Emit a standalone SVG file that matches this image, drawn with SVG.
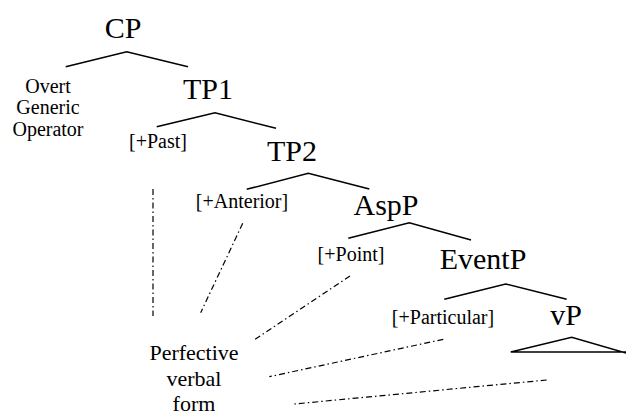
<svg xmlns="http://www.w3.org/2000/svg" width="626" height="412" viewBox="0 0 626 412">
<style>
text{font-family:'Liberation Serif','Times New Roman','DejaVu Serif',serif;fill:#000;text-anchor:middle}
.big{font-size:30px}
.sm{font-size:20px}
.pf{font-size:22px}
.br{fill:none;stroke:#000;stroke-width:1.5}
.dd{fill:none;stroke:#000;stroke-width:1.2;stroke-dasharray:6 3 1.5 3}
</style>
<rect width="626" height="412" fill="#fff"/>
<g id="CP"><text class="big" font-family="Liberation Serif, serif" x="123" y="38">CP</text></g>
<g id="OGO"><text class="sm" font-family="Liberation Serif, serif" x="48" y="93">Overt</text><text class="sm" font-family="Liberation Serif, serif" x="48" y="114">Generic</text><text class="sm" font-family="Liberation Serif, serif" x="48" y="136">Operator</text></g>
<g id="TP1"><text class="big" font-family="Liberation Serif, serif" x="208" y="99">TP1</text></g>
<g id="Past"><text class="sm" font-family="Liberation Serif, serif" x="158" y="148">[+Past]</text></g>
<g id="TP2"><text class="big" font-family="Liberation Serif, serif" x="292" y="161">TP2</text></g>
<g id="Anterior"><text class="sm" font-family="Liberation Serif, serif" x="242" y="208">[+Anterior]</text></g>
<g id="AspP"><text class="big" font-family="Liberation Serif, serif" x="386" y="215">AspP</text></g>
<g id="Point"><text class="sm" font-family="Liberation Serif, serif" x="351" y="261">[+Point]</text></g>
<g id="EventP"><text class="big" font-family="Liberation Serif, serif" x="483" y="269">EventP</text></g>
<g id="Particular"><text class="sm" font-family="Liberation Serif, serif" x="443" y="324">[+Particular]</text></g>
<g id="vP"><text class="big" font-family="Liberation Serif, serif" x="566" y="325">vP</text><path class="br" d="M510.7,352 L571.7,337.3 L626,353 M510.7,352 H626"/></g>
<g id="Perfective"><text class="pf" font-family="Liberation Serif, serif" x="194" y="360">Perfective</text><text class="pf" font-family="Liberation Serif, serif" x="194" y="386">verbal</text><text class="pf" font-family="Liberation Serif, serif" x="194" y="411">form</text></g>
<g id="connectors">
<path class="br" d="M65.7,66.7 L126.7,51.7 L188,66.7"/>
<path class="br" d="M156.7,126.7 L215,112.7 L276,128.3"/>
<path class="br" d="M246.7,189.3 L308.3,173.3 L369.3,189"/>
<path class="br" d="M348.3,238.3 L409.3,222.7 L471,240"/>
<path class="br" d="M444.3,299.3 L505.7,284 L566.7,299.3"/>
<path class="dd" d="M153,189 V316"/>
<path class="dd" d="M242.7,223.3 L200.7,312.7"/>
<path class="dd" d="M350,276 L255,339.3"/>
<path class="dd" d="M443.3,339.3 L269.3,376.7"/>
<path class="dd" d="M546.7,380 L294.3,404"/>
</g>
</svg>
